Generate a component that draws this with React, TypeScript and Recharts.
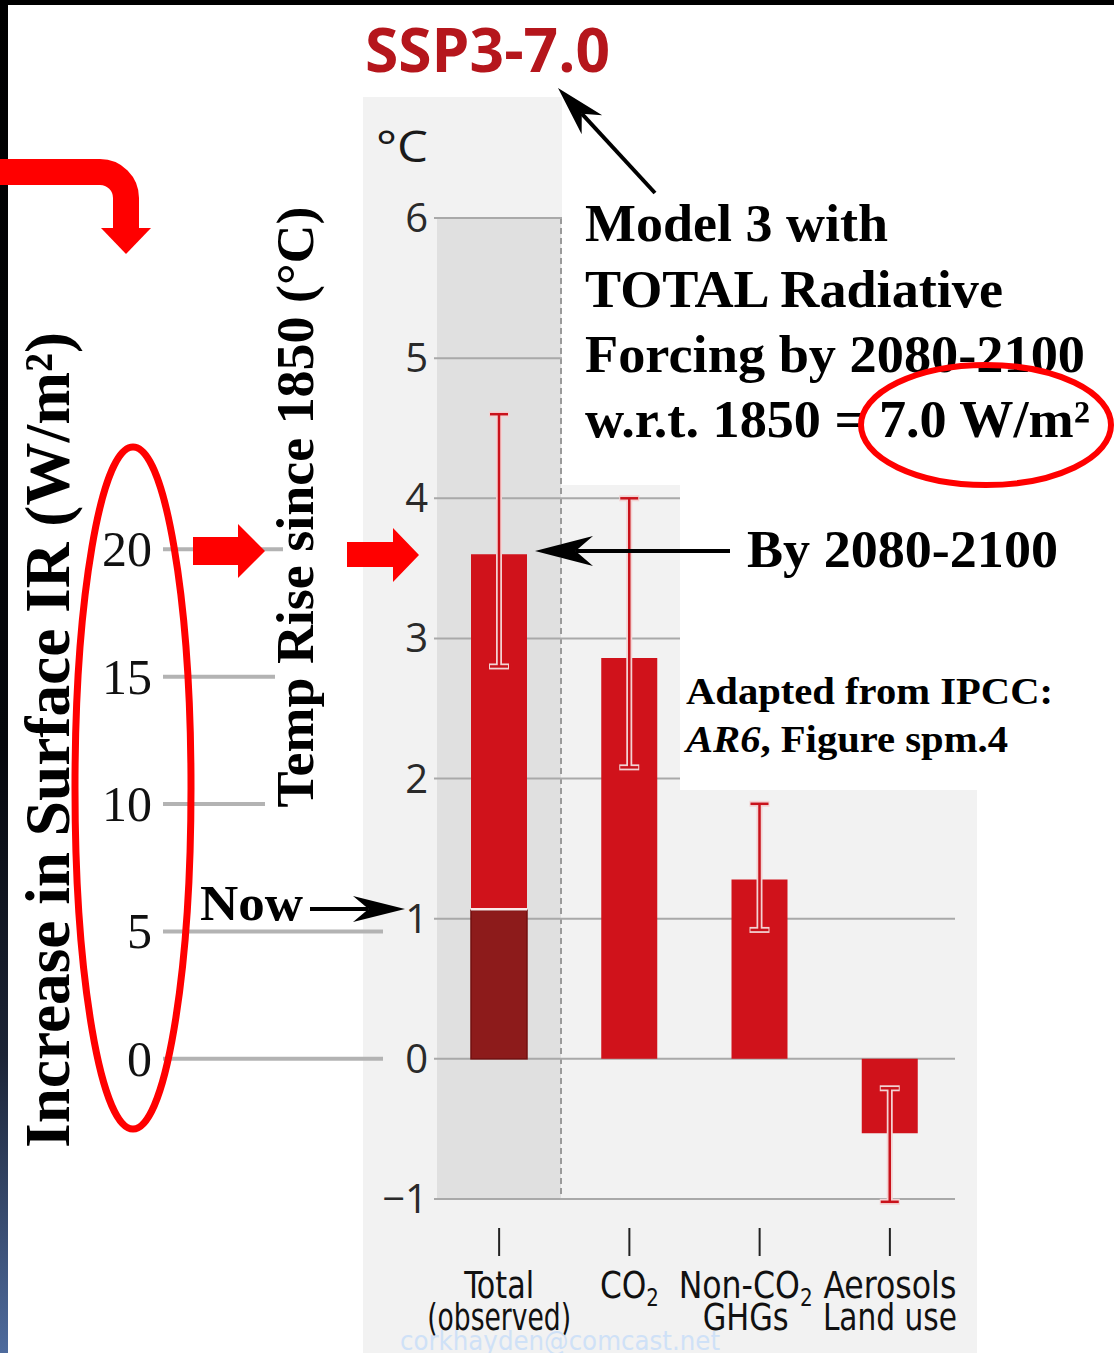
import React from 'react';
import { ComposedChart, Bar, XAxis, YAxis, CartesianGrid, ErrorBar } from 'recharts';

// IPCC AR6 SPM.4 style warming contributions, SSP3-7.0, 2081-2100 vs 1850-1900
const categories = ['Total (observed)', 'CO₂', 'Non-CO₂ GHGs', 'Aerosols Land use'];
const labelLines = [['Total', '(observed)'], ['CO₂'], ['Non-CO₂', 'GHGs'], ['Aerosols', 'Land use']];
const warming = [3.6, 2.86, 1.28, -0.53];
const rangeLow = [2.8, 2.08, 0.92, -1.02];
const rangeHigh = [4.6, 4.0, 1.82, -0.21];
const observedNow = [1.06, null, null, null];

const tempTicks = [-1, 0, 1, 2, 3, 4, 5, 6];
const tempDomain = [-1, 6];
const irTicks = [0, 5, 10, 15, 20];
const irDomain = [-5.5, 33];

const data = categories.map((name, i) => ({
  name,
  value: warming[i],
  observed: observedNow[i],
  err: [warming[i] - rangeLow[i], rangeHigh[i] - warming[i]],
}));

const SERIF = "'Liberation Serif', 'Times New Roman', serif";
const SANS = "'Open Sans', 'Noto Sans', sans-serif";
const NARROW = "'Liberation Sans Narrow', 'DejaVu Sans Condensed', 'Open Sans', sans-serif";

// label widths / nudges
const labelWidth: Record<string, number> = {
  Total: 70, '(observed)': 144, 'CO₂': 59, 'Non-CO₂': 134, GHGs: 86, Aerosols: 133, 'Land use': 134,
};
const labelShift = [0, 0, -14, 0];
const irLineEnd: Record<number, number> = { 0: 383, 5: 383, 10: 265, 15: 275, 20: 283 };

function withSub(s: string) {
  const parts = s.split('₂');
  if (parts.length === 1) return s;
  return [
    <tspan key="a">{parts[0]}</tspan>,
    <tspan key="b" fontSize={24} dy={8}>2</tspan>,
    parts[1] ? <tspan key="c" dy={-8}>{parts[1]}</tspan> : null,
  ];
}

function CatTick(props: any) {
  const { x, index } = props;
  const lines = labelLines[index] || [];
  const cx = x + labelShift[index];
  return (
    <g>
      <line x1={x} x2={x} y1={1228} y2={1256} stroke="#222" strokeWidth={2} />
      {lines.map((l, k) => (
        <text key={l} x={cx} y={1298 + k * 32} textAnchor="middle" fontSize={38} fill="#111"
          fontFamily={NARROW} textLength={labelWidth[l]} lengthAdjust="spacingAndGlyphs">
          {withSub(l)}
        </text>
      ))}
    </g>
  );
}

function TempTick(props: any) {
  const { y, payload } = props;
  const v = payload.value;
  return (
    <text x={428} y={y + 14} textAnchor="end" fontSize={40} fill="#2a2a2a" fontFamily={SANS}>
      {v < 0 ? '−' + Math.abs(v) : String(v)}
    </text>
  );
}

function IrTick(props: any) {
  const { y, payload } = props;
  const v = payload.value;
  return (
    <g>
      <line x1={163} x2={irLineEnd[v] ?? 383} y1={y} y2={y} stroke="#b3b3b3" strokeWidth={4} />
      <text x={152} y={y + 17} textAnchor="end" fontSize={50} fill="#111" fontFamily={SERIF}>{v}</text>
    </g>
  );
}

function ObservedShape(props: any) {
  const { x, y, width, height } = props;
  if (height == null || !width) return null;
  return (
    <g>
      <rect x={x} y={y} width={width} height={height} fill="#8d1b1b" stroke="#731111" strokeWidth={1.5} />
      <line x1={x} x2={x + width} y1={y - 1} y2={y - 1} stroke="#fbeaea" strokeWidth={2.5} />
    </g>
  );
}

function Arrow({ x1, y1, x2, y2, len, half, sw }: any) {
  const dx = x2 - x1, dy = y2 - y1;
  const d = Math.hypot(dx, dy);
  const ux = dx / d, uy = dy / d, nx = -uy, ny = ux;
  const bx = x2 - ux * len, by = y2 - uy * len;
  const mx = x2 - ux * len * 0.7, my = y2 - uy * len * 0.7;
  const pts = [[x2, y2], [bx + nx * half, by + ny * half], [mx, my], [bx - nx * half, by - ny * half]];
  return (
    <g>
      <line x1={x1} y1={y1} x2={mx} y2={my} stroke="#000" strokeWidth={sw} />
      <polygon points={pts.map((p) => p.join(',')).join(' ')} fill="#000" />
    </g>
  );
}

export default function App() {
  return (
    <div style={{ position: 'absolute', left: 0, top: 0, width: 1114, height: 1353, overflow: 'hidden', background: '#fff' }}>
      {/* panels behind the chart */}
      <svg width={1114} height={1353} style={{ position: 'absolute', left: 0, top: 0 }}>
        <defs>
          <linearGradient id="edge" x1="0" y1="0" x2="0" y2="1">
            <stop offset="0" stopColor="#000" />
            <stop offset="0.55" stopColor="#05070c" />
            <stop offset="0.78" stopColor="#1c2436" />
            <stop offset="1" stopColor="#4e6b9d" />
          </linearGradient>
        </defs>
        <rect x={363} y={97} width={199} height={1256} fill="#f2f2f2" />
        <rect x={562} y={485} width={415} height={868} fill="#f2f2f2" />
        <rect x={437} y={218} width={124} height={981} fill="#e0e0e0" />
        <line x1={561} x2={561} y1={218} y2={1199} stroke="#9a9a9a" strokeWidth={2} strokeDasharray="6 4" />
      </svg>

      <div style={{ position: 'absolute', left: 0, top: 0 }}>
        <ComposedChart width={1114} height={1353} data={data} margin={{ top: 218, right: 159, bottom: 0, left: 149 }}>
          <CartesianGrid yAxisId="t" vertical={false} stroke="#a9a9a9" strokeWidth={2} />
          <XAxis dataKey="name" height={154} axisLine={false} tickLine={false} interval={0} tick={(p: any) => <CatTick {...p} />} />
          <XAxis dataKey="name" xAxisId="ov" hide />
          <YAxis yAxisId="t" domain={tempDomain} ticks={tempTicks} allowDataOverflow width={60}
            axisLine={false} tickLine={false} tick={(p: any) => <TempTick {...p} />} />
          <YAxis yAxisId="ir" domain={irDomain} ticks={irTicks} allowDataOverflow width={225}
            axisLine={false} tickLine={false} tick={(p: any) => <IrTick {...p} />} />
          <Bar yAxisId="t" dataKey="value" fill="#d0121b" barSize={56} isAnimationActive={false}>
            <ErrorBar dataKey="err" width={10} stroke="#f3d3d3" strokeWidth={6} direction="y" />
            <ErrorBar dataKey="err" width={9} stroke="#c9121b" strokeWidth={2.5} direction="y" />
          </Bar>
          <Bar yAxisId="t" xAxisId="ov" dataKey="observed" fill="#8d1b1b" barSize={56}
            shape={(p: any) => <ObservedShape {...p} />} isAnimationActive={false} />
        </ComposedChart>
      </div>

      {/* annotations on top */}
      <svg width={1114} height={1353} style={{ position: 'absolute', left: 0, top: 0, pointerEvents: 'none' }}>
        <rect x={562} y={5} width={552} height={480} fill="#fff" />
        <rect x={680} y={485} width={434} height={305} fill="#fff" />

        <rect x={0} y={0} width={1114} height={5} fill="#000" />
        <rect x={0} y={0} width={8} height={1353} fill="url(#edge)" />

        <text x={365} y={72} fontSize={60} fontWeight={700} fill="#b5161c" fontFamily={SANS}
          textLength={245} lengthAdjust="spacingAndGlyphs">SSP3-7.0</text>
        <text x={376} y={162} fontSize={44} fill="#1a1a1a" fontFamily={SANS}
          textLength={52} lengthAdjust="spacingAndGlyphs">°C</text>

        <g fontFamily={SERIF} fontWeight={700} fill="#000">
          <text x={585} y={241} fontSize={52} textLength={303} lengthAdjust="spacingAndGlyphs">Model 3 with</text>
          <text x={585} y={307} fontSize={52} textLength={418} lengthAdjust="spacingAndGlyphs">TOTAL Radiative</text>
          <text x={585} y={372} fontSize={52} textLength={500} lengthAdjust="spacingAndGlyphs">Forcing by 2080-2100</text>
          <text x={585} y={437} fontSize={52} textLength={505} lengthAdjust="spacingAndGlyphs">w.r.t. 1850 = 7.0 W/m²</text>
          <text x={747} y={567} fontSize={52} textLength={311} lengthAdjust="spacingAndGlyphs">By 2080-2100</text>
          <text x={686} y={704} fontSize={38} textLength={367} lengthAdjust="spacingAndGlyphs">Adapted from IPCC:</text>
          <text x={686} y={752} fontSize={38} textLength={322} lengthAdjust="spacingAndGlyphs">
            <tspan fontStyle="italic">AR6</tspan>, Figure spm.4
          </text>
          <text x={200} y={920} fontSize={50} textLength={103} lengthAdjust="spacingAndGlyphs">Now</text>
          <text transform="translate(69,740) rotate(-90)" textAnchor="middle" fontSize={64}
            textLength={816} lengthAdjust="spacingAndGlyphs">Increase in Surface IR (W/m²)</text>
          <text transform="translate(313,507) rotate(-90)" textAnchor="middle" fontSize={53}
            textLength={601} lengthAdjust="spacingAndGlyphs">Temp Rise since 1850 (°C)</text>
        </g>

        <Arrow x1={655} y1={193} x2={558} y2={88} len={50} half={14} sw={4} />
        <Arrow x1={730} y1={551} x2={535} y2={551} len={58} half={15} sw={4} />
        <Arrow x1={310} y1={909} x2={405} y2={909} len={52} half={13} sw={4} />

        <g fill="#ff0000">
          <polygon points="193,537 238,537 238,524 265,551 238,578 238,565 193,565" />
          <polygon points="347,542 393,542 393,528 419,555 393,582 393,567 347,567" />
          <polygon points="101,228 151,228 126,254" />
        </g>
        <path d="M -5 172 H 100 A 26 26 0 0 1 126 198 V 232" fill="none" stroke="#ff0000" strokeWidth={26} />
        <ellipse cx={133} cy={788} rx={58} ry={341} fill="none" stroke="#ff0000" strokeWidth={7} />
        <ellipse cx={986} cy={425} rx={125} ry={60} fill="none" stroke="#ff0000" strokeWidth={6} />

        <text x={400} y={1350} fontSize={26} fill="#cfe1f7" fontFamily="'DejaVu Sans', sans-serif"
          textLength={320} lengthAdjust="spacingAndGlyphs">corkhayden@comcast.net</text>
      </svg>
    </div>
  );
}
